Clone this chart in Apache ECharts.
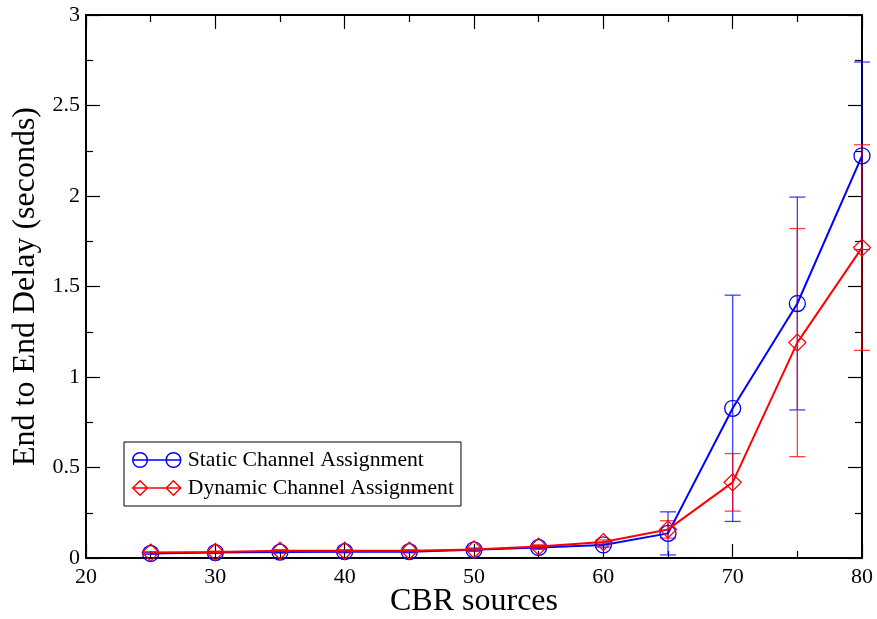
<!DOCTYPE html>
<html>
<head>
<meta charset="utf-8">
<script src="https://cdn.jsdelivr.net/npm/echarts@6/dist/echarts.min.js"></script>
<style>
  html, body { margin: 0; padding: 0; background: #fff; }
  #chart { width: 877px; height: 619px; }
</style>
</head>
<body>
<div id="chart"></div>
<script>
// Number of CBR sources
const cbrSources = [25, 30, 35, 40, 45, 50, 55, 60, 65, 70, 75, 80];

// Mean end-to-end delay (seconds) and error half-widths
const staticDelay = [0.025, 0.030, 0.033, 0.035, 0.035, 0.045, 0.058, 0.072, 0.136, 0.827, 1.406, 2.222];
const staticErr   = [0.005, 0.005, 0.006, 0.006, 0.006, 0.008, 0.010, 0.012, 0.119, 0.625, 0.588, 0.518];

const dynamicDelay = [0.030, 0.033, 0.040, 0.040, 0.040, 0.047, 0.063, 0.088, 0.158, 0.418, 1.190, 1.715];
const dynamicErr   = [0.005, 0.005, 0.006, 0.006, 0.006, 0.008, 0.010, 0.012, 0.048, 0.159, 0.630, 0.568];

const FONT = '"Liberation Serif", "DejaVu Serif", serif';
const BLUE = '#0000ff';
const RED = '#ff0000';

const pairs = (ys) => cbrSources.map((x, i) => [x, ys[i]]);
const errRows = (ys, es) => cbrSources.map((x, i) => [x, ys[i] - es[i], ys[i] + es[i]]);

function errorBar(color) {
  return function (params, api) {
    const x = api.value(0);
    const lo = api.coord([x, api.value(1)]);
    const hi = api.coord([x, api.value(2)]);
    const half = 8;
    const style = { stroke: color, lineWidth: 1.3, opacity: 0.75 };
    return {
      type: 'group',
      children: [
        { type: 'line', shape: { x1: lo[0], y1: lo[1], x2: hi[0], y2: hi[1] }, style },
        { type: 'line', shape: { x1: lo[0] - half, y1: lo[1], x2: lo[0] + half, y2: lo[1] }, style },
        { type: 'line', shape: { x1: hi[0] - half, y1: hi[1], x2: hi[0] + half, y2: hi[1] }, style }
      ]
    };
  };
}

// Legend keys: marker, joining line, marker
const circleIcon = 'path://M1,8 A7,7 0 1,1 15,8 A7,7 0 1,1 1,8 Z M33,8 A7,7 0 1,1 47,8 A7,7 0 1,1 33,8 Z M1,8 L47,8';
const diamondIcon = 'path://M1,8 L8,1 L15,8 L8,15 Z M33,8 L40,1 L47,8 L40,15 Z M1,8 L47,8';

const axisLine = { show: true, onZero: false, lineStyle: { color: '#000', width: 2 } };
const tick = { inside: true, length: 14, lineStyle: { color: '#000', width: 1.2 } };
const minorTick = { show: true, splitNumber: 2, length: 7, lineStyle: { color: '#000', width: 1.2 } };

const chart = echarts.init(document.getElementById('chart'), null, { renderer: 'canvas' });

chart.setOption({
  animation: false,
  backgroundColor: '#fff',
  textStyle: { fontFamily: FONT },
  grid: { left: 86, right: 15, top: 15, bottom: 61, containLabel: false, outerBoundsMode: 'none' },
  legend: {
    orient: 'vertical',
    left: 124,
    top: 442,
    padding: [7, 7, 7, 8],
    itemGap: 6,
    itemWidth: 48,
    itemHeight: 16,
    borderColor: '#000',
    borderWidth: 1,
    backgroundColor: '#fff',
    textStyle: { fontFamily: FONT, fontSize: 21.7, color: '#000', padding: [0, 0, 0, 2] },
    data: [
      { name: 'Static Channel Assignment', icon: circleIcon,
        itemStyle: { color: 'transparent', borderColor: BLUE, borderWidth: 1.5 } },
      { name: 'Dynamic Channel Assignment', icon: diamondIcon,
        itemStyle: { color: 'transparent', borderColor: RED, borderWidth: 1.5 } }
    ]
  },
  xAxis: [
    {
      type: 'value', min: 20, max: 80, interval: 10,
      name: 'CBR sources', nameLocation: 'middle', nameGap: 28, nameMoveOverlap: false,
      nameTextStyle: { fontFamily: FONT, fontSize: 32, color: '#000' },
      axisLine, axisTick: tick, minorTick,
      axisLabel: { fontFamily: FONT, fontSize: 22, color: '#000', margin: 8 },
      splitLine: { show: false }
    },
    {
      type: 'value', min: 20, max: 80, interval: 10, position: 'top',
      axisLine, axisTick: tick, minorTick,
      axisLabel: { show: false }, splitLine: { show: false }
    }
  ],
  yAxis: [
    {
      type: 'value', min: 0, max: 3, interval: 0.5,
      name: 'End to End Delay (seconds)', nameLocation: 'middle', nameGap: 44, nameMoveOverlap: false,
      nameTextStyle: { fontFamily: FONT, fontSize: 32, color: '#000' },
      axisLine, axisTick: tick, minorTick,
      axisLabel: { fontFamily: FONT, fontSize: 22, color: '#000', margin: 6 },
      splitLine: { show: false }
    },
    {
      type: 'value', min: 0, max: 3, interval: 0.5, position: 'right',
      axisLine, axisTick: tick, minorTick,
      axisLabel: { show: false }, splitLine: { show: false }
    }
  ],
  series: [
    {
      name: 'Static error', type: 'custom', z: 2,
      renderItem: errorBar(BLUE),
      encode: { x: 0, y: [1, 2] },
      data: errRows(staticDelay, staticErr)
    },
    {
      name: 'Dynamic error', type: 'custom', z: 2,
      renderItem: errorBar(RED),
      encode: { x: 0, y: [1, 2] },
      data: errRows(dynamicDelay, dynamicErr)
    },
    {
      name: 'Static Channel Assignment', type: 'line', z: 3,
      data: pairs(staticDelay),
      symbol: 'circle', symbolSize: 16,
      lineStyle: { color: BLUE, width: 2 },
      itemStyle: { color: 'transparent', borderColor: BLUE, borderWidth: 1.3 }
    },
    {
      name: 'Dynamic Channel Assignment', type: 'line', z: 4,
      data: pairs(dynamicDelay),
      symbol: 'diamond', symbolSize: 17,
      lineStyle: { color: RED, width: 2 },
      itemStyle: { color: 'transparent', borderColor: RED, borderWidth: 1.3 }
    }
  ]
});
</script>
</body>
</html>
